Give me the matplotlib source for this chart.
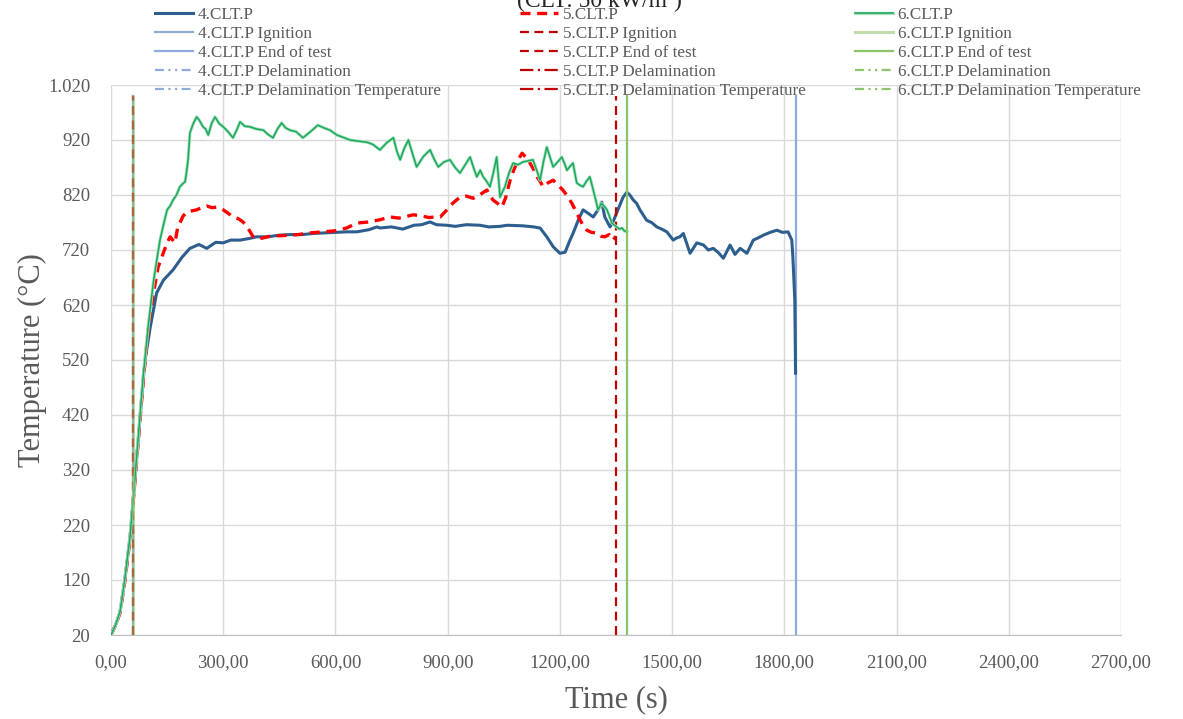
import matplotlib
matplotlib.use("Agg")
import matplotlib.pyplot as plt
import matplotlib.patheffects as pe

# ---------------- data ----------------
t4 = [0, 12, 24, 37, 51, 64, 75, 86, 91, 105, 122, 140, 166, 190, 211, 235, 256, 280, 300, 320,
      345, 370, 389, 420, 450, 478, 510, 540, 567, 600, 630, 657, 690, 711, 719, 750, 780, 810, 830, 853,
      870, 898, 920, 950, 986, 1010, 1040, 1059, 1100, 1130, 1147, 1165, 1182, 1200, 1214, 1227, 1235, 1249, 1262, 1275,
      1289, 1302, 1312, 1320, 1334, 1342, 1355, 1369, 1379, 1387, 1396, 1405, 1414, 1432, 1445, 1459, 1472, 1486, 1503, 1512,
      1521, 1530, 1548, 1566, 1584, 1597, 1610, 1624, 1637, 1655, 1668, 1682, 1700, 1717, 1730, 1744, 1762, 1780, 1795, 1810,
      1820, 1823, 1828, 1830]
T4 = [20, 38, 60, 120, 198, 302, 393, 484, 520, 580, 642, 665, 684, 707, 723, 730, 723, 734, 733, 738,
      738, 741, 744, 744, 747, 748, 748, 750, 751, 752, 753, 753, 757, 762, 760, 762, 758, 765, 766, 771,
      766, 765, 763, 766, 765, 762, 763, 765, 764, 762, 760, 744, 726, 714, 716, 738, 750, 774, 793, 787,
      780, 793, 807, 780, 762, 771, 793, 816, 825, 820, 811, 805, 793, 774, 770, 762, 758, 753, 738, 742,
      744, 750, 714, 733, 729, 720, 723, 715, 705, 729, 712, 723, 714, 738, 742, 747, 752, 756, 752, 753,
      738, 705, 629, 496]

t5 = [0, 12, 24, 37, 51, 64, 75, 86, 100, 113, 126, 140, 150, 158, 165, 171, 178, 184, 193, 203,
      215, 229, 242, 256, 270, 283, 300, 313, 326, 340, 353, 366, 380, 393, 407, 430, 455, 478, 500, 530,
      567, 600, 630, 657, 690, 719, 746, 770, 790, 808, 830, 850, 865, 880, 898, 915, 933, 950, 968, 985,
      1005, 1021, 1033, 1045, 1055, 1067, 1077, 1085, 1092, 1099, 1107, 1115, 1127, 1139, 1147, 1155, 1168, 1182, 1195, 1208,
      1220, 1232, 1243, 1254, 1264, 1272, 1285, 1299, 1310, 1320, 1332, 1342, 1350]
T5 = [20, 38, 60, 118, 195, 300, 390, 480, 580, 640, 689, 715, 733, 744, 738, 733, 760, 769, 782, 789,
      791, 793, 797, 800, 797, 798, 793, 787, 780, 777, 771, 760, 744, 740, 742, 746, 746, 747, 748, 751,
      753, 755, 760, 769, 771, 775, 780, 778, 781, 784, 782, 779, 780, 780, 793, 806, 816, 818, 814, 820,
      829, 811, 805, 798, 815, 847, 866, 878, 888, 896, 890, 884, 870, 853, 845, 835, 842, 847, 838, 829,
      818, 805, 790, 775, 762, 756, 752, 751, 745, 744, 748, 738, 745]

t6 = [0, 12, 24, 37, 51, 64, 75, 86, 100, 113, 122, 131, 140, 150, 158, 166, 175, 184, 191, 198,
      202, 206, 211, 220, 229, 237, 246, 253, 260, 269, 278, 289, 300, 313, 326, 336, 345, 358, 371, 389,
      407, 420, 433, 445, 456, 467, 478, 495, 513, 533, 553, 569, 585, 604, 620, 639, 660, 684, 700, 719,
      737, 755, 764, 773, 784, 795, 806, 817, 835, 853, 864, 875, 890, 906, 920, 933, 947, 960, 969, 978,
      987, 995, 1004, 1013, 1022, 1031, 1036, 1040, 1046, 1053, 1064, 1075, 1088, 1101, 1115, 1128, 1138, 1147, 1156, 1165,
      1173, 1182, 1194, 1205, 1212, 1219, 1227, 1235, 1240, 1245, 1253, 1262, 1271, 1280, 1287, 1294, 1302, 1311, 1318, 1326,
      1333, 1339, 1346, 1352, 1359, 1366, 1372, 1379]
T6 = [20, 38, 62, 122, 200, 305, 398, 490, 585, 660, 700, 738, 765, 793, 800, 811, 820, 835, 840, 844,
      862, 884, 933, 950, 962, 955, 944, 940, 929, 950, 962, 950, 944, 935, 924, 938, 953, 945, 944, 940,
      938, 930, 924, 940, 951, 942, 938, 935, 924, 935, 947, 942, 938, 929, 925, 920, 918, 916, 912, 902,
      915, 924, 900, 884, 905, 920, 895, 871, 890, 902, 885, 871, 880, 884, 870, 860, 875, 889, 870, 853,
      865, 853, 845, 835, 860, 889, 850, 816, 825, 835, 860, 878, 875, 880, 882, 884, 865, 847, 880, 907,
      890, 871, 880, 889, 878, 865, 872, 878, 860, 842, 838, 835, 845, 853, 835, 816, 793, 805, 800, 793,
      780, 769, 765, 762, 758, 760, 755, 753]

series_names = ["4.CLT.P", "5.CLT.P", "6.CLT.P"]
ignition_t = [60, 60, 60]
end_t = [1830, 1350, 1380]
vline_T = [20, 1000]

x_ticks = [0, 300, 600, 900, 1200, 1500, 1800, 2100, 2400, 2700]
x_ticklabels = ["0,00", "300,00", "600,00", "900,00", "1200,00", "1500,00", "1800,00", "2100,00", "2400,00", "2700,00"]
y_ticks = [20, 120, 220, 320, 420, 520, 620, 720, 820, 920, 1020]
y_ticklabels = ["20", "120", "220", "320", "420", "520", "620", "720", "820", "920", "1.020"]

# ---------------- figure ----------------
W, H = 1183, 719
fig = plt.figure(figsize=(W / 100, H / 100), dpi=100)
ax = fig.add_axes([111 / W, 1 - 635 / H, (1121 - 111) / W, (635 - 85) / H])

serif = ["Liberation Serif", "DejaVu Serif"]
gray = "#595959"

blue, lblue = "#2E5E8E", "#8FAADC"
red, dred = "#FF0000", "#C00000"
green, lgreen = "#19A95A", "#8CC26A"

# series 4
h4, = ax.plot(t4, T4, color=blue, lw=2.2, zorder=3, solid_joinstyle="round")
h4i, = ax.plot([ignition_t[0]] * 2, vline_T, color=lblue, lw=1.6, zorder=2)
h4e, = ax.plot([end_t[0]] * 2, vline_T, color=lblue, lw=1.6, zorder=2)
h4d, = ax.plot([], [], color=lblue, lw=1.6, dashes=(4, 2, 1, 2, 1, 2))
h4dt, = ax.plot([], [], color=lblue, lw=1.6, dashes=(4, 2, 1, 2, 1, 2))

# series 5
h5, = ax.plot(t5, T5, color=red, lw=2.4, dashes=(3, 2), zorder=4)
h5i, = ax.plot([ignition_t[1]] * 2, vline_T, color=dred, lw=1.6, dashes=(4, 2.5), zorder=4)
h5e, = ax.plot([end_t[1]] * 2, vline_T, color=dred, lw=1.6, dashes=(4, 2.5), zorder=4)
h5d, = ax.plot([], [], color=dred, lw=1.6, dashes=(6, 2, 1, 2))
h5dt, = ax.plot([], [], color=dred, lw=1.6, dashes=(6, 2, 1, 2))

# series 6
h6, = ax.plot(t6, T6, color=green, lw=1.1, zorder=5,
              path_effects=[pe.Stroke(linewidth=2.3, foreground="#a8e0bf"), pe.Normal()])
h6i, = ax.plot([ignition_t[2]] * 2, vline_T, color=lgreen, lw=2.2, alpha=0.55, zorder=5)
h6e, = ax.plot([end_t[2]] * 2, vline_T, color=lgreen, lw=1.6, zorder=5)
h6d, = ax.plot([], [], color=lgreen, lw=1.6, dashes=(4, 2, 1, 2, 1, 2))
h6dt, = ax.plot([], [], color=lgreen, lw=1.6, dashes=(4, 2, 1, 2, 1, 2))

ax.set_xlim(0, 2700)
ax.set_ylim(20, 1020)
ax.set_xticks(x_ticks)
ax.set_xticklabels(x_ticklabels)
ax.set_yticks(y_ticks)
ax.set_yticklabels(y_ticklabels)
ax.tick_params(length=0, colors=gray, labelsize=13.5)
for lab in ax.get_xticklabels() + ax.get_yticklabels():
    lab.set_fontfamily(serif)
ax.tick_params(axis="x", pad=14)
ax.tick_params(axis="y", pad=15)
ax.grid(True, color="#D9D9D9", lw=1.0)
ax.set_axisbelow(True)
for s in ["top", "right"]:
    ax.spines[s].set_visible(False)
ax.spines["left"].set_visible(False)
ax.spines["bottom"].set_color("#BFBFBF")

ax.set_xlabel("Time (s)", fontsize=22, color=gray, family=serif)
ax.xaxis.set_label_coords(0.5, -50 / 550)
ax.set_ylabel("Temperature (°C)", fontsize=22, color=gray, family=serif)
ax.yaxis.set_label_coords(-64 / 1010, 0.5)

# clipped title at the very top
fig.text(599 / W, 1 - 6 / H, "(CLT: 50 kW/m²)", ha="center", va="baseline",
         fontsize=17, family=serif, color="#262626")

# legends: three columns
groups = [
    ([h4, h4i, h4e, h4d, h4dt], 155),
    ([h5, h5i, h5e, h5d, h5dt], 520),
    ([h6, h6i, h6e, h6d, h6dt], 855),
]
suffixes = ["", " Ignition", " End of test", " Delamination", " Delamination Temperature"]
for (handles, xpx), name in zip(groups, series_names):
    labels = [name + s for s in suffixes]
    leg = fig.legend(handles, labels, loc="upper left", bbox_to_anchor=(xpx / W, 1 - 7 / H),
                     bbox_transform=fig.transFigure, frameon=False,
                     prop={"family": serif, "size": 12.3}, handlelength=2.2, handletextpad=0.3,
                     labelspacing=0.18, borderpad=0, borderaxespad=0)
    for tx in leg.get_texts():
        tx.set_color(gray)

fig.savefig("out.png", dpi=100)
